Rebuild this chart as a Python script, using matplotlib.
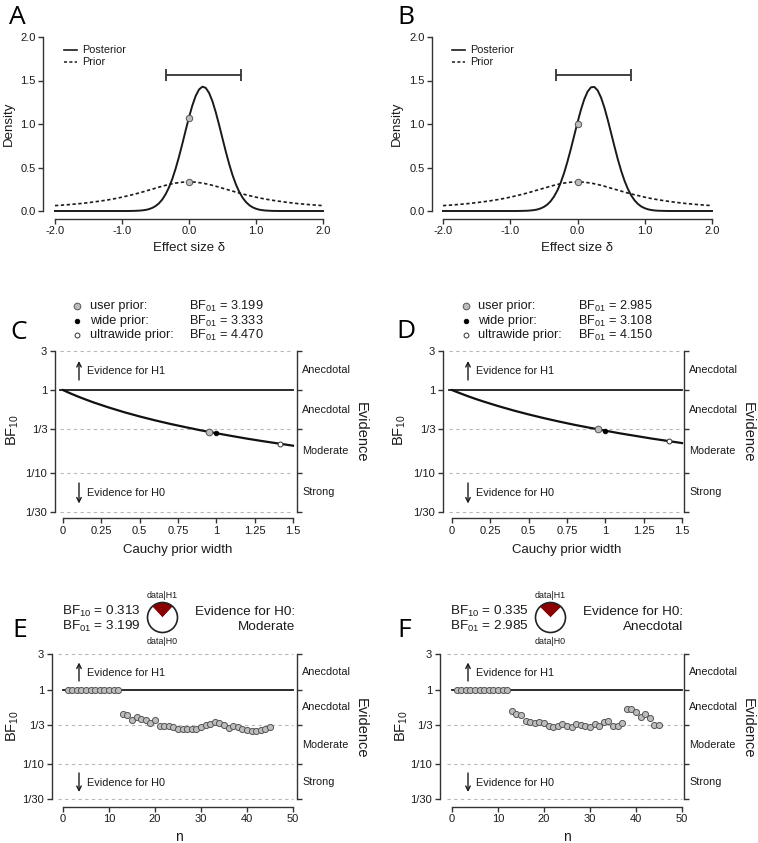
import numpy as np
import matplotlib
matplotlib.use('Agg')
import matplotlib.pyplot as plt
from matplotlib.patches import Circle
from matplotlib.ticker import NullLocator

W, H = 758, 843
plt.rcParams['font.family'] = ['Liberation Sans', 'DejaVu Sans']
plt.rcParams['mathtext.fontset'] = 'custom'
plt.rcParams['mathtext.rm'] = 'Liberation Sans'
plt.rcParams['mathtext.it'] = 'Liberation Sans:italic'
plt.rcParams['mathtext.bf'] = 'Liberation Sans:bold'

# ---------------- data ----------------
# Prior / posterior densities (panels A, B)
prior_x = np.round(np.arange(-2.0, 2.0001, 0.1), 2)
prior_y = [0.062, 0.067, 0.073, 0.080, 0.087, 0.096, 0.106, 0.117, 0.129, 0.143,
           0.159, 0.177, 0.196, 0.217, 0.240, 0.262, 0.285, 0.305, 0.321, 0.331,
           0.335,
           0.331, 0.321, 0.305, 0.285, 0.262, 0.240, 0.217, 0.196, 0.177, 0.159,
           0.143, 0.129, 0.117, 0.106, 0.096, 0.087, 0.080, 0.073, 0.067, 0.062]

post_x = np.round(np.arange(-2.0, 2.0001, 0.05), 2)
post_A = [0.0] * 23 + [
    0.001, 0.002, 0.004, 0.007, 0.012, 0.021, 0.035, 0.056, 0.087, 0.131,
    0.191, 0.269, 0.367, 0.486, 0.622, 0.771, 0.926, 1.077, 1.213, 1.323,
    1.397, 1.429, 1.415, 1.357, 1.261, 1.134, 0.988, 0.833, 0.681, 0.538,
    0.412, 0.306, 0.220, 0.153, 0.103, 0.067, 0.042, 0.026, 0.015, 0.009,
    0.005, 0.003, 0.001, 0.001] + [0.0] * 14
post_B = [0.0] * 23 + [
    0.001, 0.002, 0.003, 0.006, 0.010, 0.017, 0.029, 0.047, 0.073, 0.112,
    0.165, 0.235, 0.325, 0.436, 0.566, 0.710, 0.864, 1.018, 1.161, 1.283,
    1.372, 1.422, 1.426, 1.386, 1.304, 1.188, 1.048, 0.895, 0.741, 0.593,
    0.460, 0.346, 0.252, 0.177, 0.121, 0.080, 0.051, 0.032, 0.019, 0.011,
    0.006, 0.003, 0.002, 0.001] + [0.0] * 14

ci_A = [-0.34, 0.78]
ci_B = [-0.32, 0.79]
ci_height = 1.56

# Robustness check (panels C, D)
r_grid = [0, 0.05, 0.1, 0.15, 0.2, 0.3, 0.4, 0.5, 0.6, 0.7, 0.8, 0.9,
          1.0, 1.1, 1.2, 1.3, 1.4, 1.5]
bf_rob_C = [1.0, 0.909, 0.832, 0.766, 0.708, 0.614, 0.539, 0.479, 0.430, 0.389,
            0.355, 0.325, 0.300, 0.278, 0.258, 0.241, 0.226, 0.212]
bf_rob_D = [1.0, 0.919, 0.848, 0.786, 0.732, 0.641, 0.567, 0.507, 0.457, 0.415,
            0.379, 0.349, 0.322, 0.298, 0.278, 0.259, 0.243, 0.228]
prior_names = ['user prior:', 'wide prior:', 'ultrawide prior:']
prior_widths = [0.95, 1.0, 1.414]
bf01_C = [3.199, 3.333, 4.470]
bf01_D = [2.985, 3.108, 4.150]

# Sequential analysis (panels E, F)
n_seq = list(range(1, 46))
bf_seq_E = [1.0] * 12 + [
    0.470, 0.451, 0.394, 0.428, 0.402, 0.386, 0.355, 0.386, 0.320, 0.320,
    0.320, 0.310, 0.298, 0.295, 0.295, 0.295, 0.295, 0.310, 0.330, 0.344,
    0.363, 0.355, 0.337, 0.304, 0.327, 0.310, 0.298, 0.283, 0.280, 0.280,
    0.289, 0.298, 0.313]
bf_seq_F = [1.0] * 12 + [
    0.510, 0.465, 0.451, 0.378, 0.363, 0.351, 0.366, 0.351, 0.320, 0.317,
    0.320, 0.344, 0.320, 0.317, 0.344, 0.330, 0.327, 0.317, 0.348, 0.327,
    0.363, 0.378, 0.323, 0.327, 0.351, 0.554, 0.554, 0.495, 0.424, 0.470,
    0.415, 0.330, 0.334]
bf10_E, bf01_E, evid_E = 0.313, 3.199, 'Moderate'
bf10_F, bf01_F, evid_F = 0.335, 2.985, 'Anecdotal'

bf_breaks = [1/30, 1/10, 1/3, 1, 3]
bf_break_labels = ['1/30', '1/10', '1/3', '1', '3']
evid_labels = ['Strong', 'Moderate', 'Anecdotal', 'Anecdotal']

# ---------------- style ----------------
PT = 0.72
INK = '#1a1a1a'
AXC = '#333333'
GRID = '#b8b8b8'
PTFILL = '#bdbdbd'
PTEDGE = '#555555'
TICK = 8

fig = plt.figure(figsize=(W / 100, H / 100), dpi=100)
ov = fig.add_axes([0, 0, 1, 1], zorder=10)
ov.set_xlim(0, W)
ov.set_ylim(H, 0)
ov.axis('off')
ov.patch.set_alpha(0)


def axes_px(x0, y0, x1, y1):
    return fig.add_axes([x0 / W, 1 - y1 / H, (x1 - x0) / W, (y1 - y0) / H])


def t(x, y, s, **kw):
    kw.setdefault('fontsize', 9)
    kw.setdefault('color', INK)
    kw.setdefault('va', 'center')
    ov.text(x, y, s, **kw)


def letter(x, y, s):
    ov.text(x, y, s, fontsize=19, family=['Open Sans', 'DejaVu Sans'],
            ha='left', va='baseline', color='black')


def labels_px(ax, xl, xpos, yl, ypos, fs=9.5, yfs=9.5):
    ax.set_xlabel(xl, fontsize=fs, color=INK, ha='center', va='center')
    ax.xaxis.set_label_coords(*xpos, transform=ov.transData)
    ax.set_ylabel(yl, fontsize=yfs, color=INK, ha='center', va='center')
    ax.yaxis.set_label_coords(*ypos, transform=ov.transData)


# ---------------- panels A, B ----------------
def density_panel(x0, x1, spine_px, post, bf01, ci, leg_x, xlab_pos, ylab_pos):
    ax = axes_px(x0, 37, x1, 211)
    ax.set_xlim(-2, 2)
    ax.set_ylim(0, 2)
    ax.plot(prior_x, prior_y, color=INK, lw=1.2, ls=(0, (2.0, 1.5)), clip_on=False)
    ax.plot(post_x, post, color=INK, lw=1.4, clip_on=False)
    p0 = prior_y[int(np.argmin(np.abs(prior_x)))]
    ax.plot([0, 0], [bf01 * p0, p0], 'o', ms=4.6, mfc=PTFILL, mec=PTEDGE,
            mew=0.7, ls='none', zorder=5, clip_on=False)
    lo, hi = ci
    mid = (lo + hi) / 2
    ax.errorbar([mid], [ci_height], xerr=[[mid - lo], [hi - mid]], fmt='none',
                ecolor=AXC, elinewidth=1.3, capsize=4, capthick=1.3)
    for s in ['top', 'right']:
        ax.spines[s].set_visible(False)
    ax.spines['left'].set_position(('outward', (x0 - spine_px) * PT))
    ax.spines['bottom'].set_position(('outward', 8 * PT))
    ax.spines['left'].set_bounds(0, 2)
    ax.spines['bottom'].set_bounds(-2, 2)
    for s in ['left', 'bottom']:
        ax.spines[s].set_color(AXC)
        ax.spines[s].set_linewidth(1.0)
    ax.set_xticks([-2, -1, 0, 1, 2], ['-2.0', '-1.0', '0.0', '1.0', '2.0'])
    ax.set_yticks([0, 0.5, 1, 1.5, 2], ['0.0', '0.5', '1.0', '1.5', '2.0'])
    ax.tick_params(length=3.6, width=1.0, color=AXC, labelsize=TICK,
                   labelcolor=INK, pad=1.8)
    ax.patch.set_alpha(0)
    labels_px(ax, 'Effect size δ', xlab_pos, 'Density', ylab_pos)
    # legend
    ov.plot([leg_x, leg_x + 13], [50, 50], color=INK, lw=1.2)
    ov.plot([leg_x, leg_x + 13], [62, 62], color=INK, lw=1.1, ls=(0, (2.0, 1.5)))
    t(leg_x + 18, 50, 'Posterior', fontsize=7.8)
    t(leg_x + 18, 62, 'Prior', fontsize=7.8)
    return ax


density_panel(55, 323, 43, post_A, bf01_C[0], ci_A, 64, (189, 248), (9, 124))
density_panel(443, 712, 432, post_B, bf01_D[0], ci_B, 452, (577.5, 248), (397, 124))
letter(9, 24, 'A')
letter(397, 24, 'B')


# ---------------- shared BF axes helpers ----------------
def bf_axes(ax, x0, x1, xmax, bottom_off, xticks, xticklabels):
    ax.set_yscale('log')
    ax.set_ylim(1/30, 3)
    ax.set_yticks(bf_breaks, bf_break_labels)
    ax.yaxis.set_minor_locator(NullLocator())
    ax.spines['top'].set_visible(False)
    ax.spines['bottom'].set_position(('outward', bottom_off * PT))
    ax.spines['bottom'].set_bounds(0, xmax)
    for s in ['left', 'bottom', 'right']:
        ax.spines[s].set_color(AXC)
        ax.spines[s].set_linewidth(1.0)
    ax.set_xticks(xticks, xticklabels)
    ax.tick_params(axis='both', length=3.6, width=1.0, color=AXC,
                   labelsize=TICK, labelcolor=INK, pad=2)
    ax.tick_params(axis='y', left=True, right=True, labelright=False)
    ax.patch.set_alpha(0)
    xs = 1 + 5 / (x1 - x0)
    for i, lab in enumerate(evid_labels):
        yc = np.sqrt(bf_breaks[i] * bf_breaks[i + 1])
        ax.text(xs, yc, lab, transform=ax.get_yaxis_transform(), fontsize=7.8,
                color=INK, ha='left', va='center', clip_on=False)


def ref_lines(ax, xstart, xmax, solid_start):
    for v in [3, 1/3, 1/10, 1/30]:
        ax.plot([xstart, xmax], [v, v], color=GRID, lw=0.8, ls=(0, (3, 3)),
                clip_on=False, zorder=1)
    ax.plot([solid_start, xmax], [1, 1], color=INK, lw=1.3, zorder=2)


def evidence_arrows(ax_x, txt_x, y_h1_txt, y_h1_arr, y_h0_txt, y_h0_arr, ev_x, ev_y):
    ov.annotate('', xy=(ax_x, y_h1_arr[1]), xytext=(ax_x, y_h1_arr[0]),
                arrowprops=dict(arrowstyle='->', lw=1.0, color=INK,
                                mutation_scale=8, shrinkA=0, shrinkB=0))
    ov.annotate('', xy=(ax_x, y_h0_arr[1]), xytext=(ax_x, y_h0_arr[0]),
                arrowprops=dict(arrowstyle='->', lw=1.0, color=INK,
                                mutation_scale=8, shrinkA=0, shrinkB=0))
    t(txt_x, y_h1_txt, 'Evidence for H1', fontsize=7.8)
    t(txt_x, y_h0_txt, 'Evidence for H0', fontsize=7.8)
    t(ev_x, ev_y, 'Evidence', fontsize=10.5, rotation=270, ha='center')


# ---------------- panels C, D ----------------
def robust_panel(x0, x1, zero_px, bf_curve, bf01s, leg_px, xlab_pos, ylab_pos,
                 arr_x, ev_x):
    ax = axes_px(x0, 350.7, x1, 512)
    pxu = 230 / 1.5
    ax.set_xlim(-(zero_px - x0) / pxu, 1.5 + (x1 - zero_px - 230) / pxu)
    bf_axes(ax, x0, x1, 1.5, 6, [0, 0.25, 0.5, 0.75, 1, 1.25, 1.5],
            ['0', '0.25', '0.5', '0.75', '1', '1.25', '1.5'])
    ref_lines(ax, -0.02, 1.5, -0.02)
    ax.plot(r_grid, bf_curve, color='#111111', lw=1.6, zorder=3, clip_on=False)
    styles = [dict(ms=4.8, mfc=PTFILL, mec=PTEDGE, mew=0.7),
              dict(ms=3.3, mfc='black', mec='black', mew=0.6),
              dict(ms=3.5, mfc='white', mec='#333333', mew=0.7)]
    for w, b, st in zip(prior_widths, bf01s, styles):
        ax.plot([w], [1 / b], 'o', ls='none', zorder=5, **st)
    labels_px(ax, 'Cauchy prior width', xlab_pos, r'$\mathrm{BF}_{10}$', ylab_pos,
              yfs=10.5)
    mx, tx, bx = leg_px
    for yy, name, b, st in zip([306, 321, 335], prior_names, bf01s, styles):
        ov.plot([mx], [yy], 'o', ls='none', **st)
        t(tx, yy, name, fontsize=9.2)
        t(bx, yy, r'$\mathrm{BF}_{01}$ = ' + f'{b:.3f}', fontsize=9.2)
    evidence_arrows(arr_x, arr_x + 8, 370.5, (380, 361), 492.5, (483, 503.5),
                    ev_x, 432.5)
    return ax


robust_panel(55, 297, 63, bf_rob_C, bf01_C, (77, 90, 189), (178, 549.5), (13, 430),
             79, 361)
robust_panel(443, 684, 452, bf_rob_D, bf01_D, (466, 478, 578), (567, 549.5),
             (400, 430), 468, 748)
letter(10, 339, 'C')
letter(396, 338, 'D')


# ---------------- panels E, F ----------------
def seq_panel(x0, x1, zero_px, bf_seq, bf10, bf01, evid, pie_cx, bf_txt_x,
              ev_txt_x, xlab_pos, ylab_pos, arr_x, ev_x):
    ax = axes_px(x0, 654.3, x1, 799.3)
    pxu = 230 / 50
    ax.set_xlim(-(zero_px - x0) / pxu, 50 + (x1 - zero_px - 230) / pxu)
    bf_axes(ax, x0, x1, 50, 7.4, [0, 10, 20, 30, 40, 50],
            ['0', '10', '20', '30', '40', '50'])
    ref_lines(ax, -1.1, 50, 0)
    ax.plot(n_seq, bf_seq, 'o', ls='none', ms=4.4, mfc=PTFILL, mec=PTEDGE,
            mew=0.7, zorder=5, clip_on=False)
    labels_px(ax, 'n', xlab_pos, r'$\mathrm{BF}_{10}$', ylab_pos, fs=10, yfs=10.5)
    # header
    t(bf_txt_x, 611.7, r'$\mathrm{BF}_{10}$ = ' + f'{bf10:.3f}', fontsize=9.7)
    t(bf_txt_x, 626.7, r'$\mathrm{BF}_{01}$ = ' + f'{bf01:.3f}', fontsize=9.7)
    t(ev_txt_x, 611.7, 'Evidence for H0:', fontsize=9.7, ha='right')
    t(ev_txt_x, 626.7, evid, fontsize=9.7, ha='right')
    # pie
    r, cy = 15, 617.5
    pad = 2
    pa = axes_px(pie_cx - r - pad, cy - r - pad, pie_cx + r + pad, cy + r + pad)
    p1 = bf10 / (1 + bf10)
    pa.pie([p1, 1 - p1], colors=['#8b0000', 'white'], radius=1,
           startangle=90 - 180 * p1, counterclock=True,
           wedgeprops=dict(linewidth=0))
    pa.add_patch(Circle((0, 0), 1, fill=False, ec='#222222', lw=1.2))
    lim = (r + pad) / r
    pa.set_xlim(-lim, lim)
    pa.set_ylim(-lim, lim)
    pa.set_aspect('equal')
    pa.axis('off')
    t(pie_cx, 595.5, 'data|H1', fontsize=6.4, ha='center')
    t(pie_cx, 641, 'data|H0', fontsize=6.4, ha='center')
    evidence_arrows(arr_x, arr_x + 8, 672.7, (681, 662.5), 782.5, (773, 792),
                    ev_x, 728)
    return ax


seq_panel(52, 297, 63, bf_seq_E, bf10_E, bf01_E, evid_E, 162.5, 62, 295,
          (179, 836.7), (13, 726), 79, 361)
seq_panel(440, 684, 452, bf_seq_F, bf10_F, bf01_F, evid_F, 550.5, 450, 683,
          (567, 836.7), (401.5, 726), 468, 748)
letter(12, 637, 'E')
letter(397, 637, 'F')

fig.savefig('out.png', dpi=100)
